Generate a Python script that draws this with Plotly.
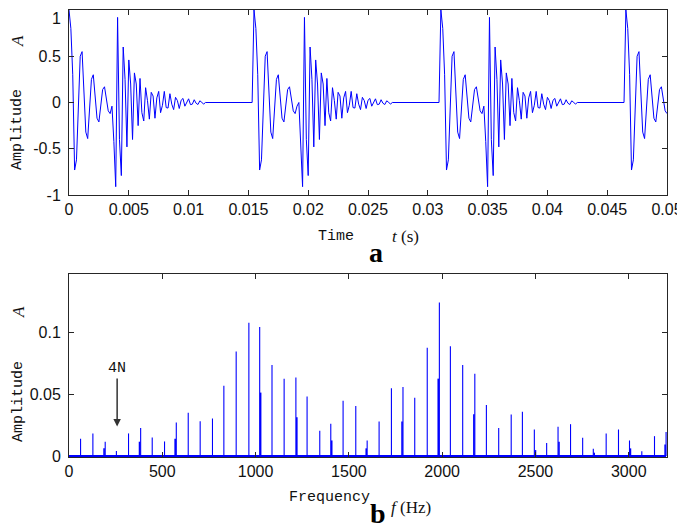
import plotly.graph_objects as go

W, H = 685, 530
OFF = 8  # the page body adds an 8px margin, so the figure is drawn that much smaller
FW, FH = W - OFF, H - OFF

# ---- panel a: sampled time signal (fs = 6400 Hz) ----
FS = 6400.0
T_END = 0.05

# sample values of the low-frequency burst
BURST_A = [1.00, 0.80, 0.30, -0.73, -0.62, 0.05, 0.50, 0.55, 0.10, -0.32,
           -0.39, -0.10, 0.25, 0.30, 0.10, -0.17, -0.21, -0.05, 0.14, 0.17,
           0.06, -0.09, -0.12, -0.04]

# sample values of the high-frequency burst
BURST_B = [-0.42, -0.91, 0.92, -0.40, -0.79, 0.60, 0.25, -0.48, 0.46, 0.20,
           -0.40, 0.32, 0.20, -0.25, 0.26, -0.11, -0.20, 0.16, 0.02, -0.18,
           0.11, 0.07, -0.17, 0.05, 0.12, -0.11, -0.03, 0.12, -0.055, -0.06,
           0.095, -0.018, -0.077, 0.056, 0.021, -0.065, 0.024, 0.044, -0.04,
           -0.005, 0.04, -0.023, -0.018, 0.03, -0.008, -0.022, 0.018, 0.004,
           -0.018]

ONSET_A_MS = [0.0, 15.5, 31.05, 46.55]
ONSET_B_MS = [3.75, 19.3, 34.85]

# ---- panel b: spectrum lines ----
LINE_FREQ = [62, 128, 194, 254, 319, 384, 446, 512, 575, 639,
             703, 769, 830, 896, 964, 1022, 1088, 1153, 1216, 1276,
             1344, 1403, 1469, 1537, 1598, 1662, 1728, 1790, 1853, 1920,
             1985, 2044, 2110, 2175, 2237, 2303, 2370, 2430, 2494, 2560,
             2621, 2688, 2753, 2810, 2879, 2945, 3004, 3070, 3138, 3200]
LINE_AMP = [0.014, 0.0183, 0.0116, 0.004, 0.0183, 0.0226, 0.015, 0.0118, 0.0272, 0.035,
            0.0282, 0.0304, 0.057, 0.0847, 0.108, 0.1046, 0.0737, 0.0627, 0.0637, 0.0482,
            0.0204, 0.0261, 0.0447, 0.0406, 0.0126, 0.028, 0.0549, 0.056, 0.0473, 0.0877,
            0.1245, 0.089, 0.0737, 0.0667, 0.0414, 0.0226, 0.0336, 0.0358, 0.0215, 0.0105,
            0.0237, 0.0258, 0.0148, 0.0059, 0.0183, 0.0215, 0.0126, 0.0038, 0.0161, 0.0194]

SIDE_FREQ = [188, 378, 569, 1027, 1221, 1408, 1593, 1785, 1979, 2170,
             2500, 2626, 2815, 3009, 3195]
SIDE_AMP = [0.0062, 0.0116, 0.014, 0.0514, 0.0315, 0.0126, 0.0062, 0.028, 0.0627, 0.0339,
            0.0048, 0.0116, 0.0027, 0.0062, 0.0094]

TIME_TICKS = [0, 0.005, 0.01, 0.015, 0.02, 0.025, 0.03, 0.035, 0.04, 0.045, 0.05]
TIME_LABELS = ["0", "0.005", "0.01", "0.015", "0.02", "0.025", "0.03", "0.035", "0.04", "0.045", "0.05"]
AMP_TICKS = [-1, -0.5, 0, 0.5, 1]
AMP_LABELS = ["-1", "-0.5", "0", "0.5", ""]  # top "1" is placed as a note so it is not clipped
FREQ_TICKS = [0, 500, 1000, 1500, 2000, 2500, 3000]
SPEC_TICKS = [0, 0.05, 0.1]
SPEC_LABELS = ["0", "0.05", "0.1"]


def px(x, y):
    """window pixel position -> paper coords"""
    return (x - OFF) / FW, 1 - (y - OFF) / FH


# build the sampled waveform
n = int(round(T_END * FS)) + 1
wave = [0.0] * n
for burst, onsets in ((BURST_A, ONSET_A_MS), (BURST_B, ONSET_B_MS)):
    for on in onsets:
        i0 = int(round(on / 1000 * FS))
        for k, v in enumerate(burst):
            if i0 + k < n:
                wave[i0 + k] = v
t = [i / FS for i in range(n)]


def stems(freqs, amps):
    xs, ys = [], []
    for f, a in zip(freqs, amps):
        xs += [f, f, None]
        ys += [0, a, None]
    return xs, ys


fig = go.Figure()
fig.add_trace(go.Scatter(x=t, y=wave, mode="lines",
                         line=dict(color="#0000ff", width=1),
                         xaxis="x", yaxis="y"))

sx, sy = stems(SIDE_FREQ, SIDE_AMP)
fig.add_trace(go.Scatter(x=sx, y=sy, mode="lines",
                         line=dict(color="#0000ff", width=1.6),
                         xaxis="x2", yaxis="y2"))
mx, my = stems(LINE_FREQ, LINE_AMP)
fig.add_trace(go.Scatter(x=mx, y=my, mode="lines",
                         line=dict(color="#0000ff", width=1.1),
                         xaxis="x2", yaxis="y2"))
fig.add_trace(go.Scatter(x=[0, 3200], y=[0, 0], mode="lines",
                         line=dict(color="#0000ff", width=2),
                         xaxis="x2", yaxis="y2"))

tick_font = dict(family="Liberation Sans", size=16, color="#111")
axis_common = dict(
    showline=True, linecolor="#262626", linewidth=1, mirror="allticks",
    ticks="inside", ticklen=5, tickcolor="#262626", showgrid=False, zeroline=False,
    automargin=False, tickfont=tick_font,
)

x0, _ = px(69, 0)
x1, _ = px(667, 0)
_, ya_top = px(0, 10)
_, ya_bot = px(0, 195)
_, yb_top = px(0, 274)
_, yb_bot = px(0, 457)

fig.update_layout(
    width=FW, height=FH,
    margin=dict(l=0, r=0, t=0, b=0),
    plot_bgcolor="white", paper_bgcolor="white",
    showlegend=False,
    xaxis=dict(domain=[x0, x1], range=[0, T_END], tickvals=TIME_TICKS,
               ticktext=TIME_LABELS, anchor="y", **axis_common),
    yaxis=dict(domain=[ya_bot, ya_top], range=[-1, 1], tickvals=AMP_TICKS,
               ticktext=AMP_LABELS, anchor="x", ticklabelstandoff=4, **axis_common),
    xaxis2=dict(domain=[x0, x1], range=[0, 3205], tickvals=FREQ_TICKS,
                anchor="y2", **axis_common),
    yaxis2=dict(domain=[yb_bot, yb_top], range=[-0.0008, 0.1475], tickvals=SPEC_TICKS,
                ticktext=SPEC_LABELS, anchor="x2", ticklabelstandoff=4, **axis_common),
)

mono = dict(family="Liberation Mono", size=15, color="#111")
serif = dict(family="Liberation Serif", size=17, color="#111")
bold = dict(family="Liberation Serif", size=28, color="#000")


def label(x, y, text, font, angle=0, xanchor="center", yanchor="middle"):
    ax_, ay_ = px(x, y)
    fig.add_annotation(x=ax_, y=ay_, xref="paper", yref="paper", text=text,
                       showarrow=False, font=font, textangle=angle,
                       xanchor=xanchor, yanchor=yanchor)


label(63, 8, "1", tick_font, xanchor="right", yanchor="top")

label(18, 130, "Amplitude", mono, -90)
label(18, 41, "<i>A</i>", serif, -90)
label(336, 236, "Time", mono)
label(405, 236, "<i>t</i> (s)", serif)
label(376, 253, "<b>a</b>", bold)

label(18, 402, "Amplitude", mono, -90)
label(18, 312, "<i>A</i>", serif, -90)
label(329, 497, "Frequency", mono)
label(411, 507, "<i>f</i> (Hz)", serif)
label(378, 513, "<b>b</b>", bold)

fig.add_annotation(x=258, y=0.024, xref="x2", yref="y2", text="4N",
                   showarrow=True, ax=0, ay=-58, arrowhead=2, arrowsize=1,
                   arrowwidth=1.5, arrowcolor="#333", font=mono)

fig.write_html("out.html")
